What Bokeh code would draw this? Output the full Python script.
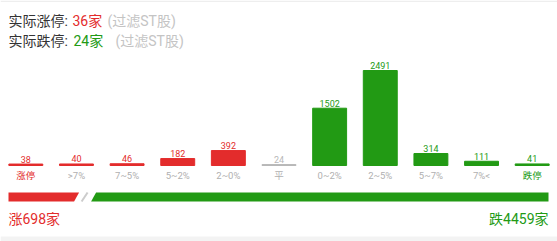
from bokeh.plotting import figure
from bokeh.models import Range1d, FactorRange, ColumnDataSource
from bokeh.layouts import column
from bokeh.core.properties import value
from bokeh.embed import file_html
from bokeh.resources import INLINE

# ---------------- data ----------------
categories = ["涨停", ">7%", "7~5%", "5~2%", "2~0%", "平", "0~2%", "2~5%", "5~7%", "7%<", "跌停"]
counts = [38, 40, 46, 182, 392, 24, 1502, 2491, 314, 111, 41]
groups = ["up", "up", "up", "up", "up", "flat", "down", "down", "down", "down", "down"]
up_total = 698
down_total = 4459
limit_up_actual = 36
limit_down_actual = 24

# ---------------- style ----------------
W = 557
H_TOP, H_MID, H_BOT = 55, 130, 56
RED = "#e32c2c"
GREEN = "#229a14"
FLAT = "#b8b8b8"
LABEL_GRAY = "#b0b0b0"
DARK = "#333333"
LIGHT = "#c4c4c4"
FONT = value("Roboto, Noto Sans CJK SC")


def make_fig(h, xr, yr):
    f = figure(width=W, height=h, x_range=xr, y_range=yr, output_backend="svg",
               toolbar_location=None, min_border=0, x_axis_location=None, y_axis_location=None)
    f.grid.visible = False
    f.outline_line_color = None
    f.background_fill_color = "white"
    f.border_fill_color = "white"
    return f


gcolor = {"up": RED, "flat": FLAT, "down": GREEN}
bar_colors = [gcolor[g] for g in groups]
cat_colors = [RED if c == "涨停" else GREEN if c == "跌停" else LABEL_GRAY for c in categories]
src = ColumnDataSource(dict(cat=categories, count=counts, label=[str(v) for v in counts],
                            color=bar_colors, cat_color=cat_colors))

# ---------------- title ----------------
top = make_fig(H_TOP, Range1d(0, W), Range1d(H_TOP, 0))
top.quad(left=[0], right=[W], top=[0], bottom=[1.5], fill_color="#eeeeee", line_color=None)
title_x1 = [8, 72, 107]
title_t1 = ["实际涨停: ", f"{limit_up_actual}家", "(过滤ST股)"]
title_c1 = [DARK, RED, LIGHT]
title_x2 = [8, 73, 115]
title_t2 = ["实际跌停: ", f"{limit_down_actual}家", "(过滤ST股)"]
title_c2 = [DARK, GREEN, LIGHT]
top.text(x=title_x1, y=[20] * 3, text=title_t1, text_color=title_c1, text_baseline="middle",
         text_font_size="14px", text_font=FONT)
top.text(x=title_x2, y=[40] * 3, text=title_t2, text_color=title_c2, text_baseline="middle",
         text_font_size="14px", text_font=FONT)

# ---------------- bars ----------------
base_px = 110          # baseline inside this panel
px_per_unit = 95.0 / max(counts)
mid = make_fig(H_MID, FactorRange(factors=categories, range_padding=0),
               Range1d(-(H_MID - base_px) / px_per_unit, base_px / px_per_unit))
mid.vbar(x="cat", top="count", bottom=0, width=0.67, fill_color="color", line_color="color",
         line_width=1, source=src)
mid.text(x="cat", y="count", text="label", text_align="center", text_baseline="bottom",
         y_offset=-1.5, text_font_size="9px", text_color="color", text_font=FONT, source=src)
mid.text(x="cat", y=0, text="cat", text_align="center", text_baseline="middle",
         y_offset=10, text_font_size="9.5px", text_color="cat_color", text_font=FONT, source=src)

# ---------------- bottom share bar ----------------
total = up_total + down_total
k = (548 - 8) / total
u = 1 / k  # share units per pixel
bot = make_fig(H_BOT, Range1d(-8 * u, total + (W - 548) * u), Range1d(H_BOT, 0))
bot.quad(left=[-8 * u], right=[total + (W - 548) * u], top=[51], bottom=[H_BOT],
         fill_color="#f3f3f3", line_color=None)
top_y, bot_y = 7, 16
s = 2.5 * u
red_end = up_total - 5 * u
green_start = up_total + 12 * u
slash = up_total + 3 * u
bot.patch(x=[0, red_end + s, red_end - s, 0], y=[top_y, top_y, bot_y, bot_y], fill_color=RED,
          line_color=None)
bot.patch(x=[green_start + s, total, total, green_start - s], y=[top_y, top_y, bot_y, bot_y],
          fill_color=GREEN, line_color=None)
bot.segment(x0=[slash - 3 * u], y0=[bot_y], x1=[slash + 3 * u], y1=[top_y], line_color="#cccccc",
            line_width=2)
bot.text(x=[0], y=[33], text=[f"涨{up_total}家"], text_color=RED, text_baseline="middle",
         text_align="left", text_font_size="14px", text_font=FONT)
bot.text(x=[total], y=[33], text=[f"跌{down_total}家"], text_color=GREEN, text_baseline="middle",
         text_align="right", text_font_size="14px", text_font=FONT)

layout = column(top, mid, bot, spacing=0)
open("out.html", "w").write(file_html(layout, INLINE))
